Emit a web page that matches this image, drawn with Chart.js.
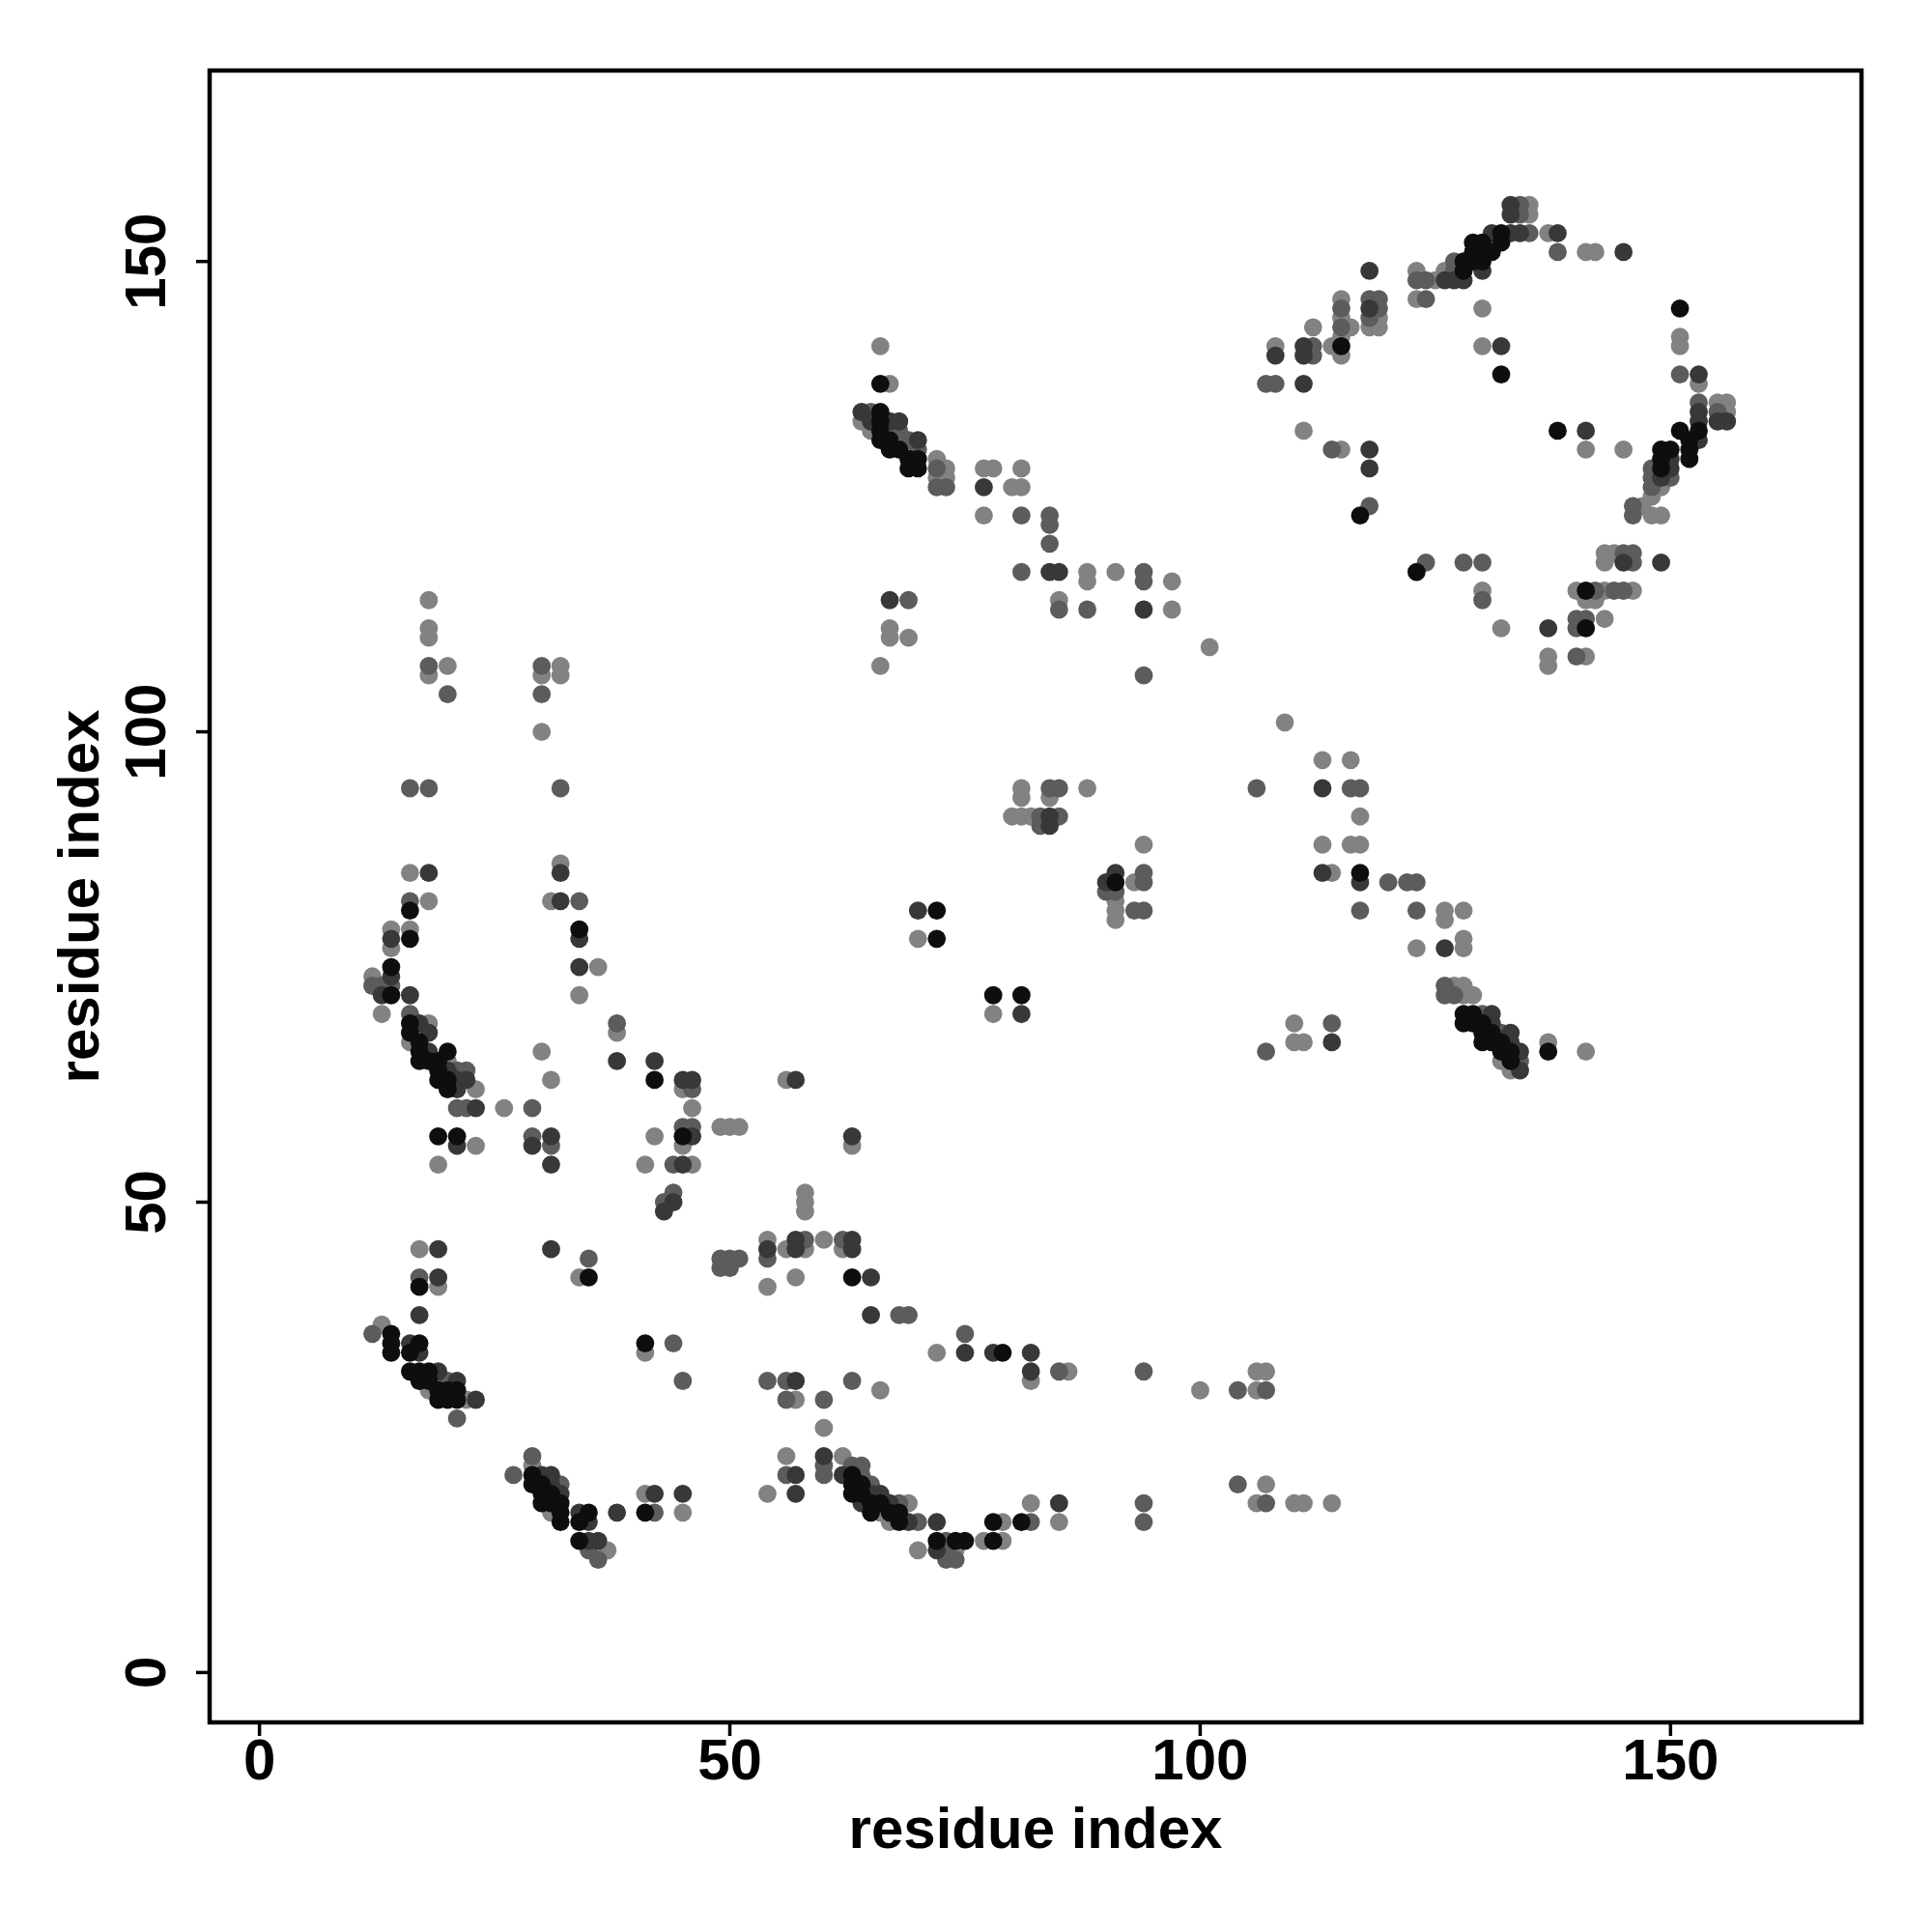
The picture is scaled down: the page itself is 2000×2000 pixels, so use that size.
<!DOCTYPE html>
<html><head><meta charset="utf-8">
<script src="https://cdn.jsdelivr.net/npm/chart.js@4.4.1/dist/chart.umd.min.js"></script>
<style>html,body{margin:0;padding:0;background:#fff}canvas{display:block}</style>
</head><body>
<canvas id="c" width="2000" height="2000" style="width:2000px;height:2000px"></canvas>
<script>
const tickValues = [0, 50, 100, 150];
const xTitle = "residue index";
const yTitle = "residue index";
const axisMin = -5.3, axisMax = 170.3;

const blackPts = [[66,137],[66,134],[66,133],[66,132],[66,131],[67,131],[67,130],[68,130],[69,129],[70,129],[69,128],[70,128],
[115,141],[117,123],[123,117],
[132,153],[129,152],[130,152],[132,152],[129,151],[130,151],[131,151],[128,150],[129,150],[130,150],[128,149],[151,145],[132,138],[151,132],[153,132],[138,132],[152,131],[149,130],[150,130],[152,130],[149,129],[152,129],[149,128],[141,115],
[141,111],[137,66],[128,70],[129,70],[128,69],[129,69],[130,69],[130,68],[131,68],[130,67],[131,67],[132,67],[132,66],[133,66],[133,65],
[117,85],[91,84],[72,81],[72,78],[78,72],[81,72],
[16,81],[34,79],[16,78],[14,75],[14,72],[16,69],[16,68],[17,67],[17,66],[17,65],[18,65],[19,65],[19,64],[19,63],[20,66],[20,63],[20,62],[42,63],
[19,57],[21,57],[45,57],[35,42],[17,41],[14,36],[14,35],[17,35],[14,34],[16,34],[41,35],[16,32],[17,32],[18,32],[17,31],[18,31],[19,30],[20,30],[21,30],[19,29],[20,29],[21,29],[29,21],[29,20],[30,20],[30,19],[31,19],[30,18],[31,18],[32,18],[32,17],[35,17],[32,16],[34,16],[34,14],[41,17],
[63,42],[79,34],[63,21],[63,20],[64,20],[63,19],[64,19],[65,18],[66,18],[65,17],[67,17],[68,17],[68,16],[78,16],[81,16],[72,14],[74,14],[75,14],[78,14]];

const darkPts = [[64,134],[65,133],[67,133],[68,133],[70,131],[77,126],[84,117],[85,117],[67,114],
[118,149],[118,145],[111,141],[111,140],[108,140],[111,137],[118,130],[118,128],[94,113],
[131,153],[133,153],[134,153],[138,153],[145,151],[130,149],[126,148],[127,148],[128,148],[133,156],[133,155],[132,141],[153,138],[153,134],[153,133],[155,133],[156,133],[141,132],[153,131],[150,129],[150,128],[149,127],[145,118],[149,118],[137,111],
[126,77],[131,70],[131,69],[133,68],[133,67],[134,66],[134,64],
[113,94],[91,85],[113,85],[90,84],[117,84],[114,67],
[84,91],[84,90],[70,81],[81,70],[57,63],
[32,85],[18,85],[32,82],[34,78],[14,78],[14,74],[13,72],[16,72],[34,75],[17,69],[18,68],[18,66],[20,64],[21,63],[21,62],[22,63],[38,65],[42,65],[45,63],[46,63],
[23,60],[31,57],[46,57],[21,56],[29,56],[31,54],[45,54],[44,50],[43,49],[19,45],[31,45],[19,42],[17,38],[16,35],[17,34],[19,32],[21,31],[23,29],[30,21],[31,21],[31,20],[32,19],[34,17],[35,16],[35,14],[36,14],[38,17],[42,19],[45,19],
[63,57],[57,46],[63,46],[54,45],[57,45],[63,45],[65,42],[65,38],[75,34],[78,34],[82,34],[82,32],[57,31],[60,23],[57,21],[62,21],[57,19],[65,19],[66,19],[64,18],[67,18],[85,18],[69,16],[72,16],[72,13]];

const midPts = [[65,134],[68,132],[69,131],[70,130],[72,128],[72,126],[73,126],[81,123],[84,123],[84,122],[84,120],[81,117],[69,114],[85,113],
[115,145],[115,143],[118,146],[119,146],[119,145],[118,144],[112,141],[112,140],[107,137],[108,137],[114,130],[118,124],[94,117],[94,116],[88,113],
[134,156],[134,155],[135,153],[138,151],[127,150],[127,149],[123,148],[124,148],[124,146],[151,138],[153,135],[155,134],[148,128],[148,127],[150,127],[148,126],[146,124],[146,123],[145,119],[146,119],[146,118],[124,118],[128,118],[130,118],[130,114],[142,115],[144,115],[145,115],[140,112],[141,112],[140,111],[140,108],
[123,84],[123,81],[126,73],[126,72],[127,72],[130,70],[132,68],[134,65],
[94,106],[106,94],[116,94],[117,94],[94,85],[120,84],[122,84],[94,84],[90,83],[91,83],[93,81],[94,81],[117,81],[114,69],[107,66],
[84,94],[85,94],[83,91],[85,91],[83,90],
[18,107],[20,104],[30,107],[30,104],[16,94],[18,94],[32,94],[16,82],[34,82],[14,73],[12,73],[13,73],[16,70],[21,64],[22,64],[38,69],[46,62],
[21,60],[22,60],[29,60],[45,58],[46,58],[29,57],[31,56],[44,54],[44,51],[43,50],[35,44],[17,42],[12,36],[44,35],[20,31],[45,31],[21,27],[29,23],[27,21],[32,20],[35,13],[36,12],[42,17],
[58,46],[62,46],[54,44],[49,44],[50,44],[51,44],[49,43],[50,43],[68,38],[69,38],[75,36],[85,32],[54,31],[56,31],[63,31],[56,29],[60,29],[60,22],[63,22],[64,22],[56,21],[60,21],[64,21],[65,20],[68,18],[70,16],[82,16],[73,14],[73,13],[73,12],[74,12],
[94,32],[104,30],[107,30],[104,20],[107,18],[94,18],[94,16]];

const lightPts = [[18,114],
[66,141],[67,137],[64,133],[65,132],[72,129],[73,128],[72,127],[73,127],[77,128],[78,128],[81,128],[80,126],[81,126],[77,123],[85,114],[67,111],[67,110],[69,110],[66,107],
[123,149],[115,146],[115,144],[115,142],[115,140],[116,143],[119,144],[118,143],[119,143],[112,143],[114,141],[108,141],[111,132],[115,130],[88,117],[88,116],[91,117],[97,116],[97,113],
[135,156],[135,155],[137,153],[141,151],[142,151],[126,149],[125,148],[123,146],[130,145],[151,142],[151,141],[130,141],[153,137],[155,135],[156,135],[156,134],[141,130],[145,130],[149,126],[148,125],[147,124],[148,123],[149,123],[143,119],[144,119],[143,118],[130,115],[140,115],[143,115],[146,115],[141,114],[142,114],[143,112],[132,111],[137,108],[137,107],[141,108],
[126,81],[128,81],[126,80],[128,78],[123,77],[128,77],[127,73],[128,73],[128,72],[129,72],[132,65],[133,64],[137,67],[141,66],
[101,109],[109,101],[113,97],[116,97],[88,94],[117,91],[94,88],[113,88],[116,88],[117,88],[114,85],[93,84],[91,82],[91,81],[91,80],[110,69],[110,67],[111,67],
[81,94],[81,93],[84,93],[80,91],[81,91],[82,91],[70,78],[78,70],[56,63],
[18,111],[18,110],[18,106],[20,107],[30,106],[32,107],[32,106],[30,100],[32,86],[16,85],[18,82],[31,82],[14,79],[14,77],[16,79],[12,74],[13,70],[36,75],[34,72],[16,67],[18,69],[20,65],[23,62],[38,68],[30,66],[31,63],[45,62],
[26,60],[46,60],[42,57],[23,56],[45,56],[19,54],[41,54],[46,54],[17,45],[34,42],[19,41],[13,37],[41,34],[18,30],[22,29],[29,22],[31,17],[37,13],[45,17],[41,19],
[49,58],[50,58],[51,58],[63,56],[58,51],[58,50],[58,49],[54,46],[60,46],[56,45],[58,45],[62,45],[57,42],[54,41],[72,34],[82,31],[66,30],[57,29],[60,26],[56,23],[62,23],[54,19],[69,18],[82,18],[66,17],[67,16],[79,16],[85,16],[77,14],[79,14],[70,13],[74,13],
[86,32],[106,32],[107,32],[100,30],[106,30],[107,20],[106,18],[110,18],[111,18],[114,18]];

const toXY = arr => arr.map(p => ({x: p[0], y: p[1]}));
const FONT = "bold 60px 'Liberation Sans', Arial, Helvetica, sans-serif";

const framePlugin = {
  id: 'frame',
  afterDraw(chart) {
    const ctx = chart.ctx, a = chart.chartArea;
    const xs = chart.scales.x, ys = chart.scales.y;
    ctx.save();
    ctx.strokeStyle = '#000';
    ctx.lineWidth = 4.5;
    ctx.strokeRect(a.left, a.top, a.right - a.left, a.bottom - a.top);
    ctx.lineWidth = 3.5;
    ctx.fillStyle = '#000';
    ctx.font = FONT;
    tickValues.forEach(v => {
      const px = xs.getPixelForValue(v);
      ctx.beginPath(); ctx.moveTo(px, a.bottom); ctx.lineTo(px, a.bottom + 14); ctx.stroke();
      ctx.textAlign = 'center'; ctx.textBaseline = 'alphabetic';
      ctx.fillText(String(v), px, 1842);
      const py = ys.getPixelForValue(v);
      ctx.beginPath(); ctx.moveTo(a.left, py); ctx.lineTo(a.left - 14, py); ctx.stroke();
      ctx.save(); ctx.translate(171, py); ctx.rotate(-Math.PI / 2);
      ctx.textAlign = 'center'; ctx.textBaseline = 'alphabetic';
      ctx.fillText(String(v), 0, 0);
      ctx.restore();
    });
    ctx.textAlign = 'center'; ctx.textBaseline = 'alphabetic';
    ctx.fillText(xTitle, (a.left + a.right) / 2, 1913);
    ctx.save(); ctx.translate(102, (a.top + a.bottom) / 2); ctx.rotate(-Math.PI / 2);
    ctx.fillText(yTitle, 0, 0);
    ctx.restore();
    ctx.restore();
  }
};

const mk = (label, pts, color) => ({
  label, data: toXY(pts), backgroundColor: color, borderWidth: 0,
  pointRadius: 9.4, pointHoverRadius: 9.4
});

new Chart(document.getElementById('c'), {
  type: 'scatter',
  data: { datasets: [
    mk('black', blackPts, '#0e0e0e'),
    mk('dark', darkPts, '#383838'),
    mk('mid', midPts, '#5c5c5c'),
    mk('light', lightPts, '#828282')
  ]},
  options: {
    responsive: false, devicePixelRatio: 1, animation: false,
    layout: { padding: { left: 217, top: 73, right: 73, bottom: 217 } },
    plugins: { legend: { display: false }, tooltip: { enabled: false } },
    scales: {
      x: { type: 'linear', min: axisMin, max: axisMax, display: false },
      y: { type: 'linear', min: axisMin, max: axisMax, display: false }
    }
  },
  plugins: [framePlugin]
});
</script>
</body></html>
